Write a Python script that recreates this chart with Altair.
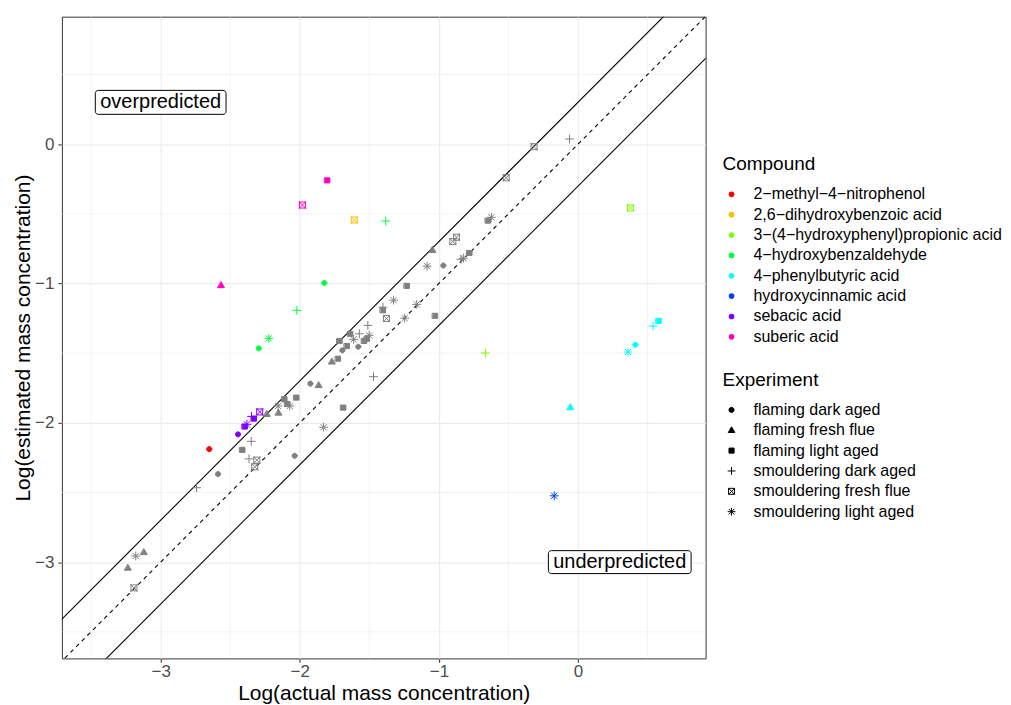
import altair as alt
import pandas as pd

FONT = "Liberation Sans"

# ---------------- legend categories ----------------
compounds = [
    "2−methyl−4−nitrophenol",
    "2,6−dihydroxybenzoic acid",
    "3−(4−hydroxyphenyl)propionic acid",
    "4−hydroxybenzaldehyde",
    "4−phenylbutyric acid",
    "hydroxycinnamic acid",
    "sebacic acid",
    "suberic acid",
]
compound_colors = ["#FF0000", "#FFBF00", "#80FF00", "#00FF40",
                   "#00FFFF", "#0040FF", "#8000FF", "#FF00BF"]
other_label = "other"
other_color = "#7F7F7F"

experiments = [
    "flaming dark aged",
    "flaming fresh flue",
    "flaming light aged",
    "smouldering dark aged",
    "smouldering fresh flue",
    "smouldering light aged",
]
exp_codes = ["FD", "FF", "FL", "SD", "SF", "SL"]
# open shapes are drawn as separate zero-area strokes so that they never fill
shape_paths = [
    "M0.85,0A0.85,0.85,0,1,1,-0.85,0A0.85,0.85,0,1,1,0.85,0Z",
    "M0,-1.15L1.1,0.75L-1.1,0.75Z",
    "M-0.85,-0.85H0.85V0.85H-0.85Z",
    "M-1.3,0H1.3M0,-1.3V1.3",
    "M-1,-1H1M1,-1V1M1,1H-1M-1,1V-1M-1,-1L1,1M-1,1L1,-1",
    "M-1.3,0H1.3M0,-1.3V1.3M-0.92,-0.92L0.92,0.92M-0.92,0.92L0.92,-0.92",
]
shape_stroke_width = [1, 1, 1, 1, 1, 1]

# ---------------- coloured (legend) compounds ----------------
col_compound = [7, 7, 7, 1, 3, 3, 3, 3, 3, 2, 2, 4, 4, 4, 4, 4, 5, 0,
                6, 6, 6, 6, 6, 6]
col_exp = ["FL", "SF", "FF", "SF", "SD", "FD", "SD", "SL", "FD", "SF", "SD",
           "FL", "SD", "FD", "SL", "FF", "SL", "FD",
           "FD", "SL", "SD", "FL", "FL", "SF"]
col_x = [-1.802, -1.981, -2.565, -1.608, -1.382, -1.824, -2.021, -2.223,
         -2.295, 0.377, -0.666, 0.580, 0.539, 0.412, 0.359, -0.054, -0.171,
         -2.651, -2.444, -2.380, -2.347, -2.395, -2.329, -2.288]
col_y = [-0.260, -0.437, -1.014, -0.544, -0.552, -0.996, -1.193, -1.394,
         -1.466, -0.458, -1.499, -1.268, -1.306, -1.440, -1.492, -1.890,
         -2.524, -2.189, -2.083, -2.011, -1.954, -2.027, -1.970, -1.922]

# ---------------- other compounds (grey, not in legend) ----------------
grey_exp = ["SL", "FF", "FF", "SF", "SD", "FD", "FL", "SD", "SD", "SF",
            "SF", "FF", "FF", "SL", "FL", "FL", "SL", "FL", "FD", "FD",
            "FF", "SL", "FL", "FF", "FL", "FD", "FL", "FL", "FL", "SL",
            "FD", "FL", "FL", "SL", "SD", "SD", "SD", "FL", "SD", "SF",
            "SL", "SL", "FL", "SL", "FL", "SL", "FD", "FF", "SF", "SF",
            "SL", "SD", "FL", "FL", "SL", "SF", "SF", "SD"]
grey_x = [-3.179, -3.120, -3.235, -3.192, -2.742, -2.588, -2.412, -2.349,
          -2.365, -2.309, -2.324, -2.236, -2.152, -2.156, -2.110, -2.089,
          -2.072, -2.024, -2.037, -1.924, -1.863, -1.829, -1.687, -1.768,
          -1.725, -1.694, -1.661, -1.714, -1.637, -1.613, -1.580, -1.537,
          -1.517, -1.501, -1.572, -1.511, -1.470, -1.402, -1.402, -1.377,
          -1.326, -1.246, -1.230, -1.159, -1.027, -1.085, -0.968, -1.045,
          -0.900, -0.874, -0.824, -0.841, -0.780, -0.647, -0.623, -0.516,
          -0.316, -0.061]
grey_y = [-2.956, -2.930, -3.042, -3.185, -2.466, -2.368, -2.194, -2.133,
          -2.259, -2.268, -2.316, -1.938, -1.929, -1.879, -1.831, -1.865,
          -1.879, -1.819, -2.237, -1.719, -1.731, -2.032, -1.891, -1.562,
          -1.540, -1.480, -1.449, -1.413, -1.361, -1.401, -1.454, -1.413,
          -1.397, -1.372, -1.361, -1.301, -1.669, -1.193, -1.170, -1.251,
          -1.120, -1.249, -1.017, -1.150, -1.232, -0.876, -0.871, -0.761,
          -0.699, -0.668, -0.819, -0.826, -0.781, -0.549, -0.525, -0.241,
          -0.018, 0.037]

# ---------------- reference lines / grid / annotations ----------------
ref_x = [-4.5, 1.5]
band = 0.301  # factor-of-two band in log10 space
minor_breaks = [-3.5, -2.5, -1.5, -0.5, 0.5]
major_breaks = [-3, -2, -1, 0]
ann_text = ["overpredicted", "underpredicted"]
ann_x = [-3.0, 0.3]
ann_y = [0.3, -3.0]

code_to_exp = dict(zip(exp_codes, experiments))

col_df = pd.DataFrame({
    "x": col_x, "y": col_y,
    "Compound": [compounds[i] for i in col_compound],
    "Experiment": [code_to_exp[c] for c in col_exp],
})
grey_df = pd.DataFrame({
    "x": grey_x, "y": grey_y,
    "Compound": [other_label] * len(grey_x),
    "Experiment": [code_to_exp[c] for c in grey_exp],
})
solid_df = pd.DataFrame({
    "x": ref_x * 2,
    "off": [band, band, -band, -band],
    "line": ["upper", "upper", "lower", "lower"],
})
dash_df = pd.DataFrame({"x": ref_x, "off": [0.0, 0.0]})
minor_df = pd.DataFrame({"v": minor_breaks})

x_scale = alt.Scale(domain=[-3.71, 0.917], nice=False, zero=False)
y_scale = alt.Scale(domain=[-3.691, 0.915], nice=False, zero=False)
x_axis = alt.Axis(values=major_breaks, title="Log(actual mass concentration)",
                  labelPadding=1, titlePadding=3)
y_axis = alt.Axis(values=major_breaks, title="Log(estimated mass concentration)",
                  labelPadding=4, titlePadding=1)

shape_scale = alt.Scale(domain=experiments, range=shape_paths)
sw_scale = alt.Scale(domain=experiments, range=shape_stroke_width)
col_scale = alt.Scale(domain=compounds, range=compound_colors)
stroke_scale = alt.Scale(domain=compounds + [other_label],
                         range=compound_colors + [other_color])
grey_fill_scale = alt.Scale(domain=[other_label], range=[other_color])

shape_legend = alt.Legend(
    title="Experiment", orient="none", legendX=662, legendY=355,
    padding=0, titlePadding=12, symbolSize=36, symbolOffset=1,
    labelOffset=14, rowPadding=4.4, labelLimit=400,
    symbolFillColor="black", symbolStrokeColor="black", symbolStrokeWidth=1)
color_legend = alt.Legend(
    title="Compound", orient="none", legendX=662, legendY=139,
    padding=0, titlePadding=12, symbolType="circle", symbolSize=32,
    symbolStrokeWidth=0, symbolOffset=1, labelOffset=14, rowPadding=4.4,
    labelLimit=400)

vgrid = alt.Chart(minor_df).mark_rule(color="#EBEBEB", strokeWidth=0.6).encode(
    x=alt.X("v:Q", scale=x_scale, axis=x_axis))
hgrid = alt.Chart(minor_df).mark_rule(color="#EBEBEB", strokeWidth=0.6).encode(
    y=alt.Y("v:Q", scale=y_scale, axis=y_axis))

solid = alt.Chart(solid_df).transform_calculate(
    y="datum.x + datum.off"
).mark_line(color="black", strokeWidth=1.1, clip=True).encode(
    x=alt.X("x:Q", scale=x_scale, axis=x_axis),
    y=alt.Y("y:Q", scale=y_scale, axis=y_axis),
    detail="line:N",
)
dashed = alt.Chart(dash_df).transform_calculate(
    y="datum.x + datum.off"
).mark_line(color="black", strokeWidth=1.1, strokeDash=[4, 4], clip=True).encode(
    x=alt.X("x:Q", scale=x_scale, axis=x_axis),
    y=alt.Y("y:Q", scale=y_scale, axis=y_axis),
)

grey = alt.Chart(grey_df).mark_point(
    filled=True, size=36, opacity=1, strokeCap="square"
).encode(
    x=alt.X("x:Q", scale=x_scale, axis=x_axis),
    y=alt.Y("y:Q", scale=y_scale, axis=y_axis),
    fill=alt.Fill("Compound:N", scale=grey_fill_scale, legend=None),
    stroke=alt.Stroke("Compound:N", scale=stroke_scale, legend=None),
    shape=alt.Shape("Experiment:N", scale=shape_scale, legend=shape_legend),
    strokeWidth=alt.StrokeWidth("Experiment:N", scale=sw_scale, legend=None),
)

colored = alt.Chart(col_df).mark_point(
    filled=True, size=36, opacity=1, strokeCap="square"
).encode(
    x=alt.X("x:Q", scale=x_scale, axis=x_axis),
    y=alt.Y("y:Q", scale=y_scale, axis=y_axis),
    color=alt.Color("Compound:N", scale=col_scale, legend=color_legend),
    stroke=alt.Stroke("Compound:N", scale=stroke_scale, legend=None),
    shape=alt.Shape("Experiment:N", scale=shape_scale, legend=shape_legend),
    strokeWidth=alt.StrokeWidth("Experiment:N", scale=sw_scale, legend=None),
)

ann_df = pd.DataFrame({"x": ann_x, "y": ann_y, "label": ann_text})
box_over = alt.Chart(ann_df.iloc[[0]]).mark_rect(
    fill="white", stroke="black", strokeWidth=1, cornerRadius=3,
    xOffset=-65.5, x2Offset=65.5, yOffset=-12, y2Offset=12,
).encode(
    x=alt.X("x:Q", scale=x_scale, axis=x_axis), x2="x:Q",
    y=alt.Y("y:Q", scale=y_scale, axis=y_axis), y2="y:Q",
)
box_under = alt.Chart(ann_df.iloc[[1]]).mark_rect(
    fill="white", stroke="black", strokeWidth=1, cornerRadius=3,
    xOffset=-71.5, x2Offset=71.5, yOffset=-11.5, y2Offset=11.5,
).encode(
    x=alt.X("x:Q", scale=x_scale, axis=x_axis), x2="x:Q",
    y=alt.Y("y:Q", scale=y_scale, axis=y_axis), y2="y:Q",
)
ann_txt = alt.Chart(ann_df).mark_text(
    font=FONT, fontSize=20, color="black", baseline="middle", align="center"
).encode(
    x=alt.X("x:Q", scale=x_scale, axis=x_axis),
    y=alt.Y("y:Q", scale=y_scale, axis=y_axis),
    text="label:N",
)

chart = alt.layer(
    vgrid, hgrid, solid, dashed, grey, colored, box_over, box_under, ann_txt
).properties(
    width=645, height=643,
    padding={"left": 4, "top": 7, "right": 0, "bottom": 0},
    background="white",
).configure_view(
    stroke="#333333", strokeWidth=1
).configure_axis(
    labelFont=FONT, labelFontSize=17, labelColor="#4D4D4D",
    titleFont=FONT, titleFontSize=21, titleFontWeight="normal", titleColor="black",
    tickColor="#333333", tickSize=4, tickWidth=1,
    domain=False, grid=True, gridColor="#EBEBEB", gridWidth=1.1,
).configure_legend(
    titleFont=FONT, titleFontSize=19, titleFontWeight="normal", titleColor="black",
    labelFont=FONT, labelFontSize=16, labelColor="black",
)

chart.save("out.html", embed_options={"renderer": "svg", "actions": False})
